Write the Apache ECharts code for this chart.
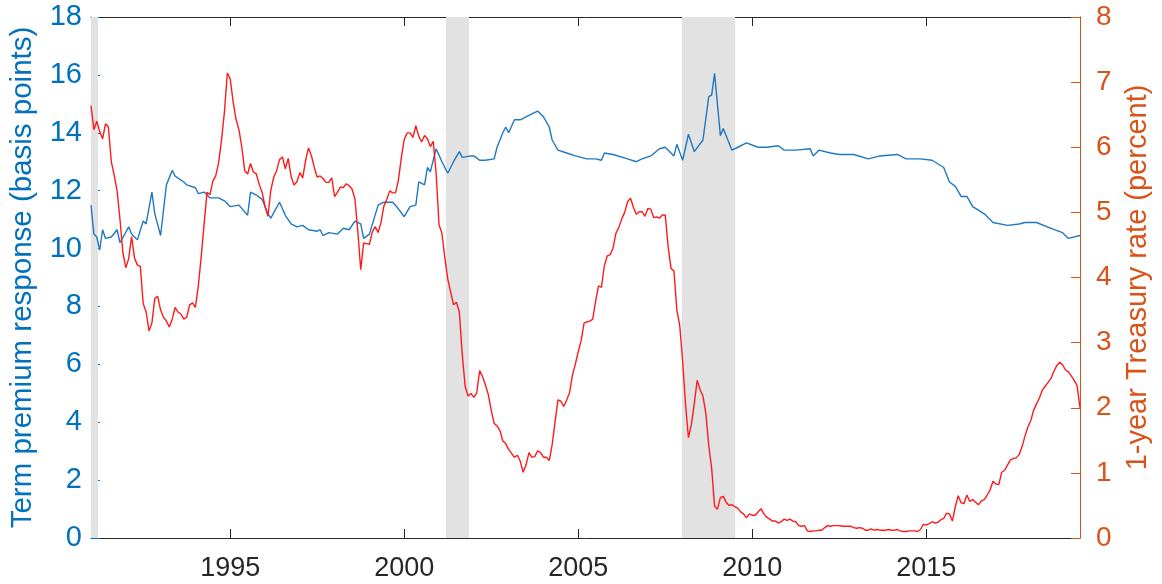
<!DOCTYPE html>
<html>
<head>
<meta charset="utf-8">
<title>Term premium response and 1-year Treasury rate</title>
<script src="https://cdn.jsdelivr.net/npm/echarts@6/dist/echarts.min.js"></script>
<style>
  html, body { margin: 0; padding: 0; background: #ffffff; }
  #chart { width: 1162px; height: 584px; }
</style>
</head>
<body>
<div id="chart"></div>
<script>
// 1-year Treasury rate (percent), monthly, starting 1991-01
const treasuryStart = '1991-01';
const treasury1y = [
  6.64, 6.27, 6.40, 6.24, 6.13, 6.36, 6.31, 5.78, 5.57, 5.33, 4.89, 4.38,
  4.15, 4.29, 4.63, 4.30, 4.19, 4.17, 3.60, 3.47, 3.18, 3.30, 3.68, 3.71,
  3.50, 3.39, 3.33, 3.24, 3.36, 3.54, 3.47, 3.44, 3.36, 3.39, 3.58, 3.61,
  3.54, 3.87, 4.32, 4.82, 5.31, 5.27, 5.48, 5.56, 5.76, 6.11, 6.54, 7.14,
  7.05, 6.70, 6.43, 6.27, 6.00, 5.64, 5.59, 5.75, 5.62, 5.59, 5.43, 5.31,
  5.09, 4.94, 5.34, 5.54, 5.64, 5.81, 5.85, 5.67, 5.83, 5.55, 5.42, 5.47,
  5.61, 5.53, 5.80, 5.99, 5.87, 5.69, 5.54, 5.56, 5.52, 5.46, 5.46, 5.53,
  5.24, 5.31, 5.39, 5.38, 5.44, 5.41, 5.36, 5.21, 4.71, 4.12, 4.53, 4.52,
  4.51, 4.70, 4.78, 4.69, 4.85, 5.10, 5.20, 5.33, 5.30, 5.30, 5.50, 5.84,
  6.12, 6.22, 6.22, 6.15, 6.33, 6.17, 6.08, 6.18, 6.13, 6.01, 6.09, 5.60,
  4.81, 4.68, 4.30, 3.98, 3.78, 3.58, 3.62, 3.47, 2.82, 2.33, 2.18, 2.22,
  2.16, 2.23, 2.57, 2.48, 2.35, 2.20, 1.96, 1.76, 1.72, 1.65, 1.49, 1.45,
  1.36, 1.30, 1.24, 1.27, 1.18, 1.01, 1.12, 1.31, 1.24, 1.25, 1.34, 1.31,
  1.24, 1.24, 1.19, 1.43, 1.78, 2.12, 2.10, 2.02, 2.12, 2.23, 2.50, 2.67,
  2.86, 3.03, 3.30, 3.32, 3.33, 3.36, 3.64, 3.87, 3.85, 4.18, 4.33, 4.35,
  4.45, 4.68, 4.77, 4.90, 5.00, 5.16, 5.22, 5.08, 4.97, 5.01, 5.01, 4.94,
  5.06, 5.05, 4.92, 4.93, 4.91, 4.96, 4.96, 4.47, 4.14, 4.10, 3.50, 3.26,
  2.71, 2.05, 1.54, 1.74, 2.06, 2.42, 2.28, 2.18, 1.91, 1.42, 1.07, 0.49,
  0.44, 0.62, 0.64, 0.55, 0.50, 0.51, 0.48, 0.46, 0.40, 0.37, 0.31, 0.37,
  0.35, 0.35, 0.40, 0.45, 0.37, 0.32, 0.29, 0.26, 0.26, 0.23, 0.25, 0.29,
  0.27, 0.29, 0.26, 0.25, 0.19, 0.18, 0.19, 0.11, 0.10, 0.11, 0.11, 0.12,
  0.12, 0.16, 0.19, 0.18, 0.19, 0.19, 0.19, 0.18, 0.18, 0.18, 0.18, 0.16,
  0.15, 0.16, 0.15, 0.12, 0.12, 0.14, 0.12, 0.13, 0.12, 0.12, 0.12, 0.13,
  0.12, 0.12, 0.13, 0.11, 0.10, 0.10, 0.11, 0.11, 0.11, 0.10, 0.13, 0.21,
  0.20, 0.22, 0.25, 0.23, 0.24, 0.28, 0.30, 0.38, 0.37, 0.26, 0.48, 0.65,
  0.54, 0.53, 0.66, 0.56, 0.59, 0.55, 0.51, 0.57, 0.59, 0.66, 0.74, 0.87,
  0.83, 0.82, 1.01, 1.04, 1.12, 1.20, 1.22, 1.23, 1.28, 1.40, 1.56, 1.70,
  1.80, 1.96, 2.06, 2.15, 2.27, 2.33, 2.39, 2.45, 2.56, 2.65, 2.70, 2.66,
  2.58, 2.55, 2.49, 2.42, 2.34, 2.00
];

// Term premium response (basis points)
const termDates = [
  '1991-01','1991-02','1991-03','1991-04','1991-05','1991-06','1991-08','1991-10','1991-11',
  '1992-02','1992-03','1992-05','1992-07','1992-08','1992-10','1992-11',
  '1993-01','1993-03','1993-05','1993-06','1993-09','1993-10',
  '1994-01','1994-02','1994-04','1994-06','1994-09','1994-11',
  '1995-01','1995-04','1995-07','1995-08','1995-10','1995-12',
  '1996-02','1996-03','1996-06','1996-08','1996-10','1996-12',
  '1997-02','1997-04','1997-07','1997-08','1997-09','1997-11',
  '1998-02','1998-04','1998-06','1998-08','1998-10','1998-11',
  '1999-01','1999-04','1999-06','1999-09','1999-10',
  '2000-01','2000-03','2000-05','2000-06','2000-08','2000-09','2000-10','2000-12',
  '2001-02','2001-04','2001-06','2001-08','2001-09','2001-12',
  '2002-01','2002-03','2002-05','2002-08','2002-09','2002-11','2002-12',
  '2003-01','2003-03','2003-05','2003-07','2003-09','2003-11',
  '2004-01','2004-03','2004-04','2004-06','2004-09','2004-12',
  '2005-04','2005-07','2005-09','2005-10',
  '2006-01','2006-06','2006-09','2006-11',
  '2007-02','2007-05','2007-07','2007-10','2007-11',
  '2008-01','2008-03','2008-05','2008-08','2008-10','2008-11','2008-12',
  '2009-02','2009-03','2009-06','2009-08','2009-11',
  '2010-03','2010-06','2010-10','2010-12',
  '2011-04','2011-09','2011-10','2011-12',
  '2012-04','2012-07','2012-12',
  '2013-05','2013-09',
  '2014-03','2014-06','2014-11',
  '2015-03','2015-07','2015-09','2015-11',
  '2016-01','2016-03','2016-05','2016-09','2016-12',
  '2017-05','2017-09','2017-11',
  '2018-03','2018-08','2018-12',
  '2019-02','2019-06'
];
const termValues = [
  11.5, 10.5, 10.4, 9.95, 10.65, 10.35, 10.4, 10.65, 10.2,
  10.75, 10.5, 10.3, 10.95, 10.85, 11.95, 11.2,
  10.45, 12.2, 12.7, 12.5, 12.3, 12.2,
  12.1, 11.9, 11.95, 11.75, 11.75, 11.65,
  11.45, 11.5, 11.15, 11.95, 11.85, 11.7,
  11.2, 11.05, 11.6, 11.15, 10.85, 10.75,
  10.8, 10.65, 10.6, 10.65, 10.45, 10.55,
  10.5, 10.7, 10.65, 10.95, 10.85, 10.35,
  10.5, 11.5, 11.6, 11.6, 11.5,
  11.1, 11.45, 11.5, 12.3, 12.2, 12.8, 12.65, 13.45,
  13.0, 12.6, 13.0, 13.35, 13.15, 13.2,
  13.2, 13.05, 13.05, 13.1, 13.5, 14.0, 14.2,
  14.0, 14.45, 14.45, 14.55, 14.65, 14.75,
  14.55, 14.2, 13.75, 13.4, 13.3, 13.2,
  13.1, 13.1, 13.05, 13.3,
  13.25, 13.1, 13.0, 13.1,
  13.2, 13.45, 13.5, 13.2, 13.6,
  13.05, 13.95, 13.35, 13.75, 15.25, 15.3, 16.05,
  13.9, 14.15, 13.4, 13.5, 13.65,
  13.5, 13.5, 13.55, 13.4,
  13.4, 13.45, 13.2, 13.4,
  13.3, 13.25, 13.25,
  13.1, 13.2,
  13.25, 13.1, 13.1,
  13.05, 12.8, 12.3, 12.15,
  11.8, 11.8, 11.45, 11.2, 10.9,
  10.8, 10.85, 10.9,
  10.9, 10.7, 10.55,
  10.35, 10.45
];

// NBER recession periods (decimal years), shaded grey
const recessions = [
  [1990.5, 1991.2],
  [2001.2, 2001.86],
  [2007.98, 2009.51]
];

// Axis ticks
const yearTicks = [1995, 2000, 2005, 2010, 2015];

const xMin = 1991;
const xMax = 2019 + 5 / 12;

function toYear(ym) {
  const [y, m] = ym.split('-').map(Number);
  return y + (m - 1) / 12;
}

const startYear = toYear(treasuryStart);
const treasuryData = treasury1y.map((v, i) => [startYear + i / 12, v]);
const termData = termDates.map((d, i) => [toYear(d), termValues[i]]);

const BLUE = '#0072BD';
const ORANGE = '#D95319';
const DARK = '#262626';
const FONT = 'Liberation Sans, Arial, sans-serif';

const chart = echarts.init(document.getElementById('chart'), null, { renderer: 'canvas' });

chart.setOption({
  animation: false,
  backgroundColor: '#ffffff',
  grid: {
    left: 91, right: 82, top: 17, bottom: 46,
    containLabel: false,
    outerBoundsMode: 'none'
  },
  xAxis: [
    {
      type: 'value',
      position: 'bottom',
      min: xMin,
      max: xMax,
      axisLine: { show: true, onZero: false, lineStyle: { color: DARK, width: 1 } },
      axisTick: { show: true, inside: true, length: 9, customValues: yearTicks, lineStyle: { color: DARK } },
      axisLabel: {
        show: true, customValues: yearTicks, margin: 17,
        color: DARK, fontSize: 27, fontFamily: FONT,
        formatter: v => String(Math.round(v))
      },
      splitLine: { show: false }
    },
    {
      type: 'value',
      position: 'top',
      min: xMin,
      max: xMax,
      axisLine: { show: true, onZero: false, lineStyle: { color: DARK, width: 1 } },
      axisTick: { show: true, inside: true, length: 9, customValues: yearTicks, lineStyle: { color: DARK } },
      axisLabel: { show: false },
      splitLine: { show: false }
    }
  ],
  yAxis: [
    {
      type: 'value',
      position: 'left',
      min: 0,
      max: 18,
      interval: 2,
      name: 'Term premium response (basis points)',
      nameLocation: 'middle',
      nameRotate: 90,
      nameGap: 53,
      nameTextStyle: { color: BLUE, fontSize: 29.5, fontFamily: FONT },
      axisLine: { show: true, onZero: false, lineStyle: { color: BLUE, width: 1 } },
      axisTick: { show: true, inside: true, length: 9, lineStyle: { color: BLUE } },
      axisLabel: { color: BLUE, fontSize: 29, fontFamily: FONT, margin: 9 },
      splitLine: { show: false }
    },
    {
      type: 'value',
      position: 'right',
      min: 0,
      max: 8,
      interval: 1,
      name: '1-year Treasury rate (percent)',
      nameLocation: 'middle',
      nameRotate: 90,
      nameGap: 43,
      nameTextStyle: { color: ORANGE, fontSize: 29, fontFamily: FONT },
      axisLine: { show: true, onZero: false, lineStyle: { color: ORANGE, width: 1 } },
      axisTick: { show: true, inside: true, length: 9, lineStyle: { color: ORANGE } },
      axisLabel: { color: ORANGE, fontSize: 28, fontFamily: FONT, margin: 16 },
      splitLine: { show: false }
    }
  ],
  series: [
    {
      name: 'Recessions',
      type: 'line',
      xAxisIndex: 0,
      yAxisIndex: 0,
      data: [],
      silent: true,
      z: 1,
      markArea: {
        silent: true,
        itemStyle: { color: '#e2e2e2' },
        data: recessions.map(r => [
          { xAxis: Math.max(r[0], xMin) },
          { xAxis: Math.min(r[1], xMax) }
        ])
      }
    },
    {
      name: 'Term premium response',
      type: 'line',
      xAxisIndex: 0,
      yAxisIndex: 0,
      data: termData,
      showSymbol: false,
      symbol: 'none',
      z: 3,
      lineStyle: { color: '#1f78c1', width: 1.4 }
    },
    {
      name: '1-year Treasury rate',
      type: 'line',
      xAxisIndex: 0,
      yAxisIndex: 1,
      data: treasuryData,
      showSymbol: false,
      symbol: 'none',
      z: 4,
      lineStyle: { color: '#ff1a1a', width: 1.4 }
    }
  ]
});
</script>
</body>
</html>
